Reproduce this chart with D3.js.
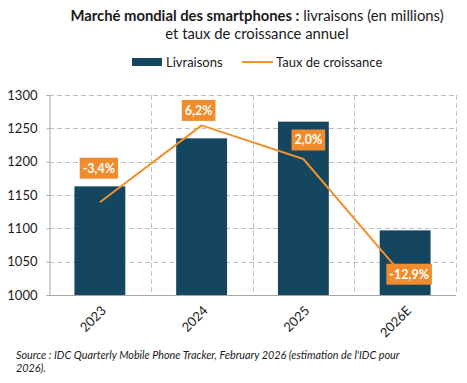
<!DOCTYPE html>
<html><head><meta charset="utf-8">
<script src="https://cdn.jsdelivr.net/npm/d3@7"></script>
<style>
html,body{margin:0;padding:0;background:#fff;}
svg{display:block;font-family:Lato,"Open Sans",sans-serif;}
</style></head>
<body>
<svg id="chart" width="467" height="383"></svg>
<script>
const categories = ["2023", "2024", "2025", "2026E"];
const livraisons = [1163, 1235, 1260, 1097];
const croissance = [-3.4, 6.2, 2.0, -12.9];
const croissanceLabels = ["-3,4%", "6,2%", "2,0%", "-12,9%"];
const yTicks = [1000, 1050, 1100, 1150, 1200, 1250, 1300];
// label box offsets (layout only)
const labelOffsets = [[-1, -34], [-3, -15], [5, -19], [4, -4]];

(function () {
const svg = d3.select("#chart");
const pL = 49, pR = 456, pT = 95, pB = 295;
const blue = "#15465F", orange = "#F0902F", labelOrange = "#EF8C2D", grid = "#C0C0C0";

const x = d3.scaleBand().domain(categories).range([pL, pR]).paddingInner(0.5).paddingOuter(0.25);
const y = d3.scaleLinear().domain([1000, 1300]).range([pB, pT]);
const y2 = d3.scaleLinear().domain([-15, 10]).range([pB, pT]);
const step = x.step();
const cx = c => x(c) + x.bandwidth() / 2;

// Title
const title = svg.append("text").attr("x", 257).attr("y", 21).attr("text-anchor", "middle")
  .style("font-size", "14.8px").attr("fill", "#1a1a1a");
title.append("tspan").attr("font-weight", "bold").text("Marché mondial des smartphones :");
title.append("tspan").text(" livraisons (en millions)");
svg.append("text").attr("x", 257).attr("y", 39).attr("text-anchor", "middle")
  .style("font-size", "14.8px").attr("fill", "#1a1a1a").text("et taux de croissance annuel");

// Legend
const lg = svg.append("g").style("font-size", "13px");
lg.append("rect").attr("x", 132).attr("y", 58).attr("width", 30).attr("height", 8).attr("fill", blue);
lg.append("text").attr("x", 166).attr("y", 67).attr("fill", "#1a1a1a").text("Livraisons");
lg.append("line").attr("x1", 242).attr("x2", 273).attr("y1", 62).attr("y2", 62)
  .attr("stroke", orange).attr("stroke-width", 2);
lg.append("text").attr("x", 276).attr("y", 67).attr("fill", "#1a1a1a").text("Taux de croissance");

// Horizontal grid
svg.append("g").selectAll("line").data(yTicks.filter(d => d > 1000)).join("line")
  .attr("x1", pL).attr("x2", pR).attr("y1", d => Math.round(y(d)) + 0.5).attr("y2", d => Math.round(y(d)) + 0.5)
  .attr("stroke", grid).attr("stroke-dasharray", "5,3");
// Vertical grid at category boundaries
const bounds = categories.map((c, i) => pL + (i + 1) * step);
svg.append("g").selectAll("line").data(bounds).join("line")
  .attr("x1", d => Math.round(d) + 0.5).attr("x2", d => Math.round(d) + 0.5).attr("y1", pT).attr("y2", pB)
  .attr("stroke", grid).attr("stroke-dasharray", "5,3");

// Y axis
const yAxis = d3.axisLeft(y).tickValues(yTicks).tickSize(3).tickPadding(9).tickFormat(d3.format("d"));
const ya = svg.append("g").attr("transform", `translate(${pL + 0.5},0)`).call(yAxis);
ya.select(".domain").attr("stroke", "#A6A6A6");
ya.selectAll(".tick line").attr("stroke", "#A6A6A6");
ya.selectAll(".tick text").style("font-size", "13px").style("font-family", "Lato").attr("fill", "#1a1a1a");

// Bars
svg.append("g").selectAll("rect").data(livraisons).join("rect")
  .attr("x", (d, i) => x(categories[i])).attr("width", x.bandwidth())
  .attr("y", d => y(d)).attr("height", d => pB - y(d)).attr("fill", blue);

// X axis
const xAxis = d3.axisBottom(x).tickSize(0).tickPadding(0);
const xa = svg.append("g").attr("transform", `translate(0,${pB + 0.5})`).call(xAxis);
xa.select(".domain").attr("stroke", "#A6A6A6").attr("d", `M${pL},0H${pR}`);
xa.selectAll(".tick text").style("font-size", "13px").style("font-family", "Lato").attr("fill", "#1a1a1a")
  .attr("text-anchor", "end").attr("dy", 0)
  .attr("transform", "translate(7,16) rotate(-45)");

// Line
const line = d3.line().x((d, i) => cx(categories[i])).y(d => y2(d));
svg.append("path").datum(croissance).attr("d", line).attr("fill", "none")
  .attr("stroke", orange).attr("stroke-width", 2).attr("stroke-linejoin", "round");

// Labels
const lbl = svg.append("g");
croissance.forEach((v, i) => {
  const px = cx(categories[i]) + labelOffsets[i][0];
  const py = y2(v) + labelOffsets[i][1];
  const g = lbl.append("g");
  const t = g.append("text").attr("x", px).attr("y", py).attr("text-anchor", "middle").attr("dy", "0.35em")
    .style("font-size", "12.5px").attr("font-weight", "bold").attr("fill", "#fff").text(croissanceLabels[i]);
  const w = t.node().getComputedTextLength() + 6;
  g.insert("rect", "text").attr("x", px - w / 2).attr("y", py - 10.5).attr("width", w).attr("height", 21)
    .attr("fill", labelOrange);
});

// Source
const src = svg.append("text").attr("x", 16).attr("y", 359).style("font-size", "10.8px")
  .attr("font-style", "italic").attr("fill", "#1a1a1a");
src.append("tspan").attr("x", 16).text("Source : IDC Quarterly Mobile Phone Tracker, February 2026 (estimation de l'IDC pour");
src.append("tspan").attr("x", 16).attr("dy", 13).text("2026).");
})();
</script>
</body></html>
